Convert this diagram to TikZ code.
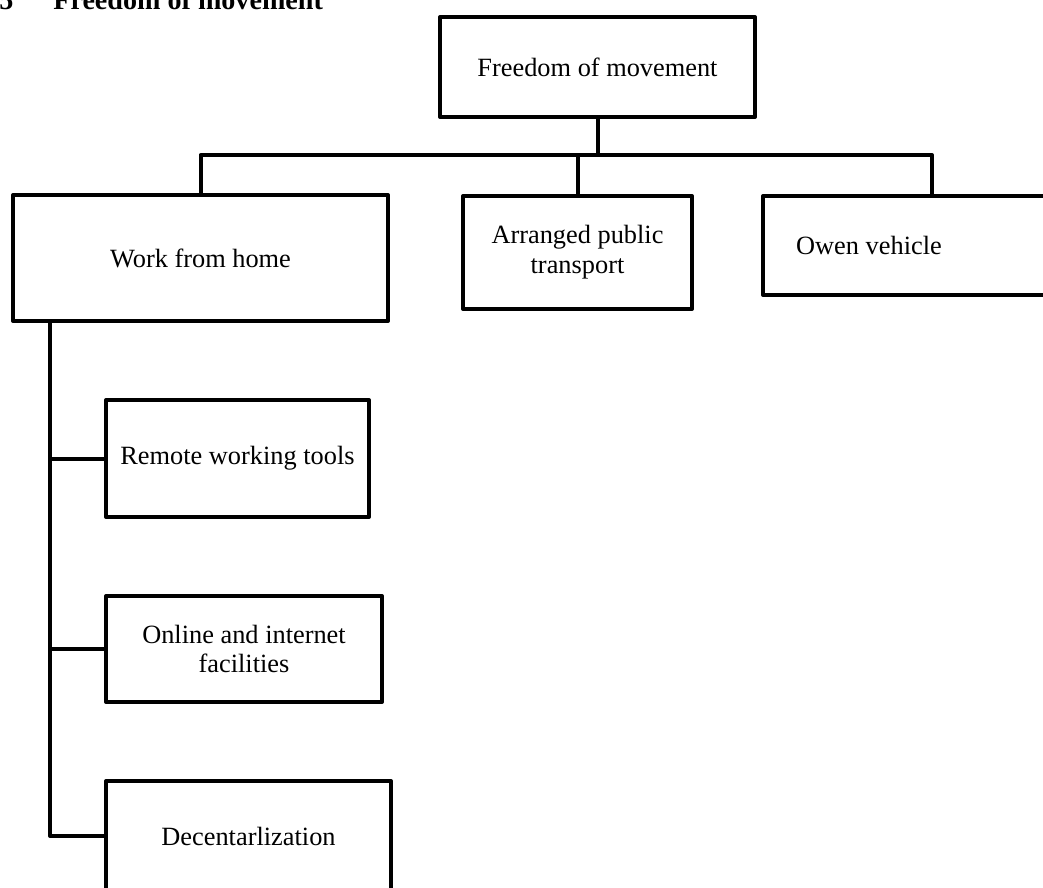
\documentclass[tikz,border=0pt]{standalone}
\usepackage{fontspec}
\setmainfont{Liberation Serif}
\usetikzlibrary{positioning}

\begin{document}
\begin{tikzpicture}[
    x=0.02cm, y=-0.02cm,
    mainbox/.style={rectangle, draw=black, line width=0.08cm, line join=round, align=center, font=\fontsize{15}{17}\selectfont},
    subbox/.style={rectangle, draw=black, line width=0.08cm, line join=round, align=center, font=\fontsize{15}{16}\selectfont},
    link/.style={draw=black, line width=0.08cm, line join=round},
    heading/.style={anchor=base west, inner sep=0pt, font=\fontsize{16}{19}\selectfont\bfseries}
]
\useasboundingbox (0,0) rectangle (1043,887);
\clip (0,0) rectangle (1043,887);

% Heading (cut at the top edge)
\node[heading] (secnum) at (-1,9.5) {5};
\node[heading] (sectitle) at (53,9.5) {Freedom of movement};

% Top level
\node[mainbox, minimum width=6.3cm, minimum height=2cm] (fom) at (597.5,67) {Freedom of movement};

% Second level
\node[mainbox, minimum width=7.5cm, minimum height=2.52cm] (wfh) at (200.5,258) {Work from home};
\node[mainbox, minimum width=4.58cm, minimum height=2.26cm] (apt) at (577.5,252.5) {Arranged public\\transport};
\node[mainbox, minimum width=8cm, minimum height=1.98cm, anchor=west,
      label={[xshift=-1.88cm, font=\fontsize{15}{17}\selectfont]center:Owen vehicle}] (own) at (761,245.5) {};

% Under work from home
\node[subbox, minimum width=5.26cm, minimum height=2.34cm] (rwt) at (237.5,458.5) {Remote working tools};
\node[subbox, minimum width=5.52cm, minimum height=2.12cm] (oif) at (244,649) {Online and internet\\facilities};
\node[subbox, minimum width=5.7cm, minimum height=2.2cm] (dec) at (248.5,836) {Decentarlization};

% Connectors
\coordinate (bar) at (0,155);
\coordinate (ownin) at (932,196);
\coordinate (spine) at (50,0);
\draw[link] (fom.south) -- (fom.south |- bar);
\draw[link] (wfh.north) -- (wfh.north |- bar) -- (ownin |- bar) -- (ownin);
\draw[link] (apt.north) -- (apt.north |- bar);
\draw[link] (spine |- wfh.south) -- (spine |- dec.west) -- (dec.west);
\draw[link] (spine |- rwt.west) -- (rwt.west);
\draw[link] (spine |- oif.west) -- (oif.west);

\end{tikzpicture}
\end{document}
